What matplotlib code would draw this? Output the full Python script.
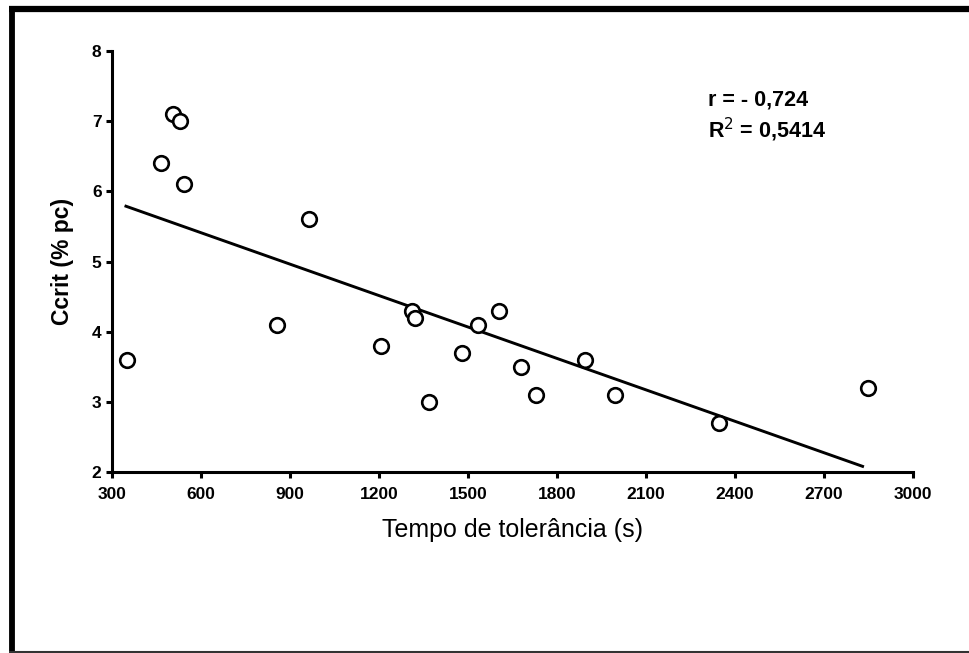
import numpy as np
import matplotlib
matplotlib.use("Agg")
import matplotlib.pyplot as plt
from matplotlib.lines import Line2D

plt.rcParams['font.family'] = ['Liberation Sans', 'DejaVu Sans']

# Tolerance time (s) vs. critical concentration (% pc)
tempo = [350, 465, 505, 530, 543, 855, 965, 1207, 1312, 1322, 1370,
         1480, 1535, 1605, 1680, 1728, 1895, 1995, 2345, 2850]
ccrit = [3.6, 6.4, 7.1, 7.0, 6.1, 4.1, 5.6, 3.8, 4.3, 4.2, 3.0,
         3.7, 4.1, 4.3, 3.5, 3.1, 3.6, 3.1, 2.7, 3.2]

x_ticks = [300, 600, 900, 1200, 1500, 1800, 2100, 2400, 2700, 3000]
y_ticks = [2, 3, 4, 5, 6, 7, 8]

stats_text = ["r = - 0,724", "R$^{2}$ = 0,5414"]

W, H = 969, 653
fig = plt.figure(figsize=(W / 100, H / 100), dpi=100)
ax = fig.add_axes([112 / W, 1 - 472 / H, 801 / W, 421 / H])

# least-squares line over the observed range
slope, intercept = np.polyfit(tempo, ccrit, 1)
xl = np.array([min(tempo) - 3, 2830])
ax.plot(xl, slope * xl + intercept, color='black', lw=2.1, zorder=2)

ax.plot(tempo, ccrit, linestyle='none', marker='o', markersize=10.5,
        markerfacecolor='white', markeredgecolor='black', markeredgewidth=1.9,
        zorder=3, clip_on=False)

ax.set_xlim(300, 3000)
ax.set_ylim(2, 8)
ax.set_xticks(x_ticks)
ax.set_yticks(y_ticks)
ax.set_xticklabels([str(v) for v in x_ticks])
ax.set_yticklabels([str(v) for v in y_ticks])

for side in ('top', 'right'):
    ax.spines[side].set_visible(False)
for side in ('left', 'bottom'):
    ax.spines[side].set_linewidth(2.2)
ax.tick_params(axis='both', direction='out', length=4.5, width=2.2,
               labelsize=12.5)
ax.tick_params(axis='x', pad=6)
ax.tick_params(axis='y', pad=3)
for lab in ax.get_xticklabels() + ax.get_yticklabels():
    lab.set_fontweight('bold')

ax.set_xlabel("Tempo de tolerância (s)", fontsize=18, labelpad=12)
ax.set_ylabel("Ccrit (% pc)", fontsize=16.5, fontweight='bold', labelpad=13)

ax.text(0.744, 0.884, stats_text[0], transform=ax.transAxes,
        fontsize=15.5, fontweight='bold', va='center')
ax.text(0.744, 0.812, stats_text[1], transform=ax.transAxes,
        fontsize=15.5, fontweight='bold', va='center')

# page frame: heavy left/top edges, thin bottom edge
fig.add_artist(Line2D([11.5 / W, 11.5 / W], [0, 1 - 6 / H],
                      transform=fig.transFigure, color='black', lw=4.2,
                      solid_capstyle='butt'))
fig.add_artist(Line2D([9 / W, 1], [1 - 9 / H, 1 - 9 / H],
                      transform=fig.transFigure, color='black', lw=4.5,
                      solid_capstyle='butt'))
fig.add_artist(Line2D([9 / W, 1], [1.5 / H, 1.5 / H],
                      transform=fig.transFigure, color='#333333', lw=1.5,
                      solid_capstyle='butt'))

fig.savefig("out.png", dpi=100)
